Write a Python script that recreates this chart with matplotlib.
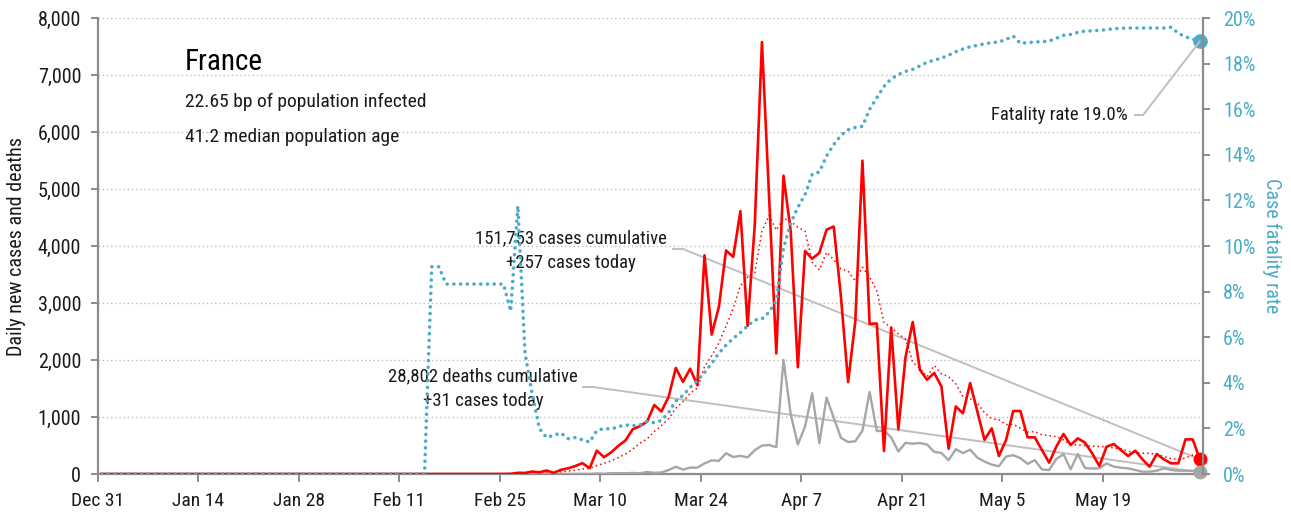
import numpy as np
import pandas as pd
import matplotlib
matplotlib.use('Agg')
import matplotlib.pyplot as plt
import matplotlib.dates as mdates
from matplotlib import font_manager
from matplotlib.ticker import FuncFormatter, PercentFormatter

# pick a narrow sans if one is installed, else plain Liberation Sans a bit smaller
fonts = font_manager.fontManager.ttflist
names = {f.name for f in fonts}
family, stretch, scale = 'Liberation Sans', 'normal', 0.88
for cand in ['Liberation Sans Narrow', 'Roboto Condensed', 'Open Sans Condensed',
             'DejaVu Sans Condensed', 'Noto Sans Condensed']:
    if cand in names:
        family, scale = cand, 1.0
        break
else:
    for f in fonts:
        if f.name in ('Roboto', 'Noto Sans', 'Open Sans', 'DejaVu Sans', 'Liberation Sans') \
                and str(f.stretch) in ('condensed', 'semi-condensed', 'extra-condensed'):
            family, stretch, scale = f.name, str(f.stretch), 1.0
            break
plt.rcParams['font.family'] = [family, 'DejaVu Sans']
plt.rcParams['font.stretch'] = stretch

# daily values, Dec 31 2019 .. Jun 1 2020
dates = pd.date_range('2019-12-31', '2020-06-01', freq='D')

cases = [0] * 56 + [
    2, 3, 21, 19, 43, 30, 61, 21, 73, 100, 140,               # Feb 25 - Mar 6
    190, 103, 410, 295, 380, 495, 590, 785, 840, 920,          # Mar 7 - 16
    1210, 1097, 1355, 1861, 1617, 1847, 1559, 3838, 2446, 2931,  # Mar 17 - 26
    3922, 3809, 4611, 2599, 4376, 7578, 4861, 2116, 5233, 4267,  # Mar 27 - Apr 5
    1873, 3912, 3777, 3881, 4286, 4342, 3114, 1613, 2673, 5497,  # Apr 6 - 15
    2633, 2641, 405, 2569, 785, 2051, 2667, 1827, 1653, 1773,    # Apr 16 - 25
    1537, 443, 1185, 1065, 1595, 1100, 600, 800, 316, 596,       # Apr 26 - May 5
    1105, 1105, 643, 643, 421, 199, 479, 702, 509, 626,          # May 6 - 15
    550, 362, 140, 479, 526, 421, 316, 409, 257, 129,            # May 16 - 25
    351, 257, 187, 187, 608, 608, 257,                           # May 26 - Jun 1
]

deaths = [0] * 66 + [
    2, 3, 2, 10, 3, 15, 15, 13, 18, 12,                    # Mar 6 - 15
    36, 21, 27, 69, 128, 78, 112, 112, 186, 240,           # Mar 16 - 25
    231, 365, 299, 319, 292, 418, 499, 509, 471, 2004,     # Mar 26 - Apr 4
    1053, 518, 833, 1417, 541, 1341, 987, 635, 561, 574,   # Apr 5 - 14
    762, 1438, 753, 761, 642, 395, 547, 531, 544, 516,     # Apr 15 - 24
    389, 369, 242, 437, 367, 427, 289, 218, 166, 135,      # Apr 25 - May 4
    306, 330, 278, 178, 243, 80, 70, 263, 348, 83,         # May 5 - 14
    351, 104, 96, 99, 187, 129, 111, 99, 70, 41,           # May 15 - 24
    41, 58, 99, 70, 58, 58, 58, 31,                        # May 25 - Jun 1
]

# case fatality rate in percent
cfr = [0] * 46 + [
    9.09, 9.09, 8.33, 8.33, 8.33, 8.33, 8.33, 8.33, 8.33, 8.33,   # Feb 15 - 24
    8.33, 7.14, 11.76, 5.3, 3.5, 2.0, 1.6, 1.7, 1.8, 1.55,        # Feb 25 - Mar 5
    1.6, 1.5, 1.4, 1.9, 2.0, 1.97, 2.08, 2.15, 2.12, 2.15,        # Mar 6 - 15
    2.3, 2.25, 2.35, 2.7, 3.2, 3.45, 3.8, 4.1, 4.45, 4.85,        # Mar 16 - 25
    5.3, 5.65, 5.95, 6.2, 6.5, 6.75, 6.8, 7.1, 7.6, 9.9,          # Mar 26 - Apr 4
    11.0, 11.7, 12.25, 13.15, 13.25, 13.95, 14.45, 14.85, 15.1, 15.2,  # Apr 5 - 14
    15.25, 16.0, 16.5, 17.0, 17.33, 17.52, 17.66, 17.75, 17.9, 18.06,  # Apr 15 - 24
    18.15, 18.24, 18.37, 18.52, 18.64, 18.74, 18.8, 18.87, 18.92, 18.95,  # Apr 25 - May 4
    19.06, 19.21, 18.89, 18.92, 18.95, 18.96, 18.99, 19.11, 19.24, 19.28,  # May 5 - 14
    19.37, 19.43, 19.44, 19.46, 19.49, 19.53, 19.55, 19.56, 19.56, 19.56,  # May 15 - 24
    19.56, 19.56, 19.56, 19.6, 19.33, 19.18, 19.07, 18.98,                 # May 25 - Jun 1
]

df = pd.DataFrame({'cases': cases, 'deaths': deaths, 'cfr': cfr}, index=dates)
df['avg'] = df['cases'].rolling(7, min_periods=1).mean()
x = df.index + pd.Timedelta(hours=12)

tick_dates = pd.date_range('2019-12-31', periods=11, freq='14D')

red = '#ff0000'
grey = '#a6a6a6'
blue = '#4bacc6'
lead = '#bfbfbf'
axis_col = '#8c8c8c'
txt = '#1a1a1a'

fig = plt.figure(figsize=(12.91, 5.13), dpi=100)
ax = fig.add_axes([0.0758, 0.0760, 0.8564, 0.8889])
ax2 = ax.twinx()

ax.plot(x, df['avg'], color=red, lw=1.1, ls=(0, (1, 2)), zorder=3)
ax.plot(x, df['deaths'], color=grey, lw=1.7, zorder=3)
ax.plot(x, df['cases'], color=red, lw=1.9, zorder=4)
ax.plot(x[-1], df['cases'].iloc[-1], 'o', color=red, ms=9, clip_on=False, zorder=5)
ax.plot(x[-1], df['deaths'].iloc[-1], 'o', color=grey, ms=9, clip_on=False, zorder=5)

ax2.plot(x, df['cfr'] / 100, color=blue, lw=2.6, ls=(0, (0.01, 1.85)),
         dash_capstyle='round', zorder=3)
ax2.plot(x[-1], df['cfr'].iloc[-1] / 100, 'o', color=blue, ms=9.5, clip_on=False)

ax.set_xlim(pd.Timestamp('2019-12-31'), pd.Timestamp('2020-06-02'))
ax.set_ylim(0, 8000)
ax2.set_ylim(0, 0.2)

ax.set_xticks(tick_dates)
ax.xaxis.set_major_formatter(FuncFormatter(
    lambda v, p: '{:%b} {}'.format(mdates.num2date(v), mdates.num2date(v).day)))
ax.set_yticks(np.arange(0, 8001, 1000))
ax.yaxis.set_major_formatter(FuncFormatter(lambda v, p: f'{v:,.0f}'))
ax2.set_yticks(np.arange(0, 0.201, 0.02))
ax2.yaxis.set_major_formatter(PercentFormatter(1.0, decimals=0))

ax.yaxis.grid(True, ls=(0, (1, 2)), color='#bdbdbd', lw=1)
ax.set_axisbelow(True)

for s in ['top', 'right']:
    ax.spines[s].set_visible(False)
for s in ['top', 'left', 'bottom']:
    ax2.spines[s].set_visible(False)
for s in [ax.spines['left'], ax.spines['bottom'], ax2.spines['right']]:
    s.set_color(axis_col)
    s.set_linewidth(1.6)

fs = 13.5 * scale
ax.tick_params(axis='x', length=6, width=1.4, color=axis_col, labelsize=14 * scale,
               labelcolor=txt, pad=7)
ax.tick_params(axis='y', length=5, width=1.4, color=axis_col, labelsize=14.5 * scale,
               labelcolor=txt, pad=7)
ax2.tick_params(axis='y', length=5, width=1.4, color=axis_col, labelsize=14.5 * scale,
                labelcolor=blue, pad=9)

ax.set_ylabel('Daily new cases and deaths', fontsize=14.5 * scale, color=txt)
ax.yaxis.set_label_coords(-0.065, 0.5)
ax2.set_ylabel('Case fatality rate', fontsize=14.5 * scale, color=blue, rotation=270,
               va='bottom')
ax2.yaxis.set_label_coords(1.053, 0.5)

ax.text(0.0789, 0.9035, 'France', transform=ax.transAxes, fontsize=21 * scale,
        color='black', va='center', ha='left')
ax.text(0.0789, 0.8158, '22.65 bp of population infected', transform=ax.transAxes,
        fontsize=14 * scale, color=txt, va='center', ha='left')
ax.text(0.0789, 0.7390, '41.2 median population age', transform=ax.transAxes,
        fontsize=14 * scale, color=txt, va='center', ha='left')

# annotations with leader lines to the latest points
notes = [
    ('151,753 cases cumulative\n+257 cases today', (0.428, 0.490), 'center',
     (0.5202, 0.5293, 0.4934), ax, df['cases'].iloc[-1]),
    ('28,802 deaths cumulative\n+31 cases today', (0.3484, 0.1875), 'center',
     (0.4388, 0.4479, 0.1908), ax, df['deaths'].iloc[-1]),
    ('Fatality rate 19.0%', (0.9317, 0.787), 'right',
     (0.9381, 0.9454, 0.7873), ax2, df['cfr'].iloc[-1] / 100),
]
for label, pos, ha, (x0, x1, yl), target, yv in notes:
    ax.text(pos[0], pos[1], label, transform=ax.transAxes, fontsize=fs,
            color=txt, ha=ha, va='center', multialignment='center', linespacing=1.45)
    ax.plot([x0, x1], [yl, yl], transform=ax.transAxes, color=lead, lw=1.4,
            clip_on=False, zorder=2)
    target.annotate('', xy=(x[-1], yv), xycoords='data', xytext=(x1, yl),
                    textcoords=ax.transAxes,
                    arrowprops=dict(arrowstyle='-', color=lead, lw=1.4,
                                    shrinkA=0, shrinkB=0), zorder=2)

fig.savefig('out.png', dpi=100)
